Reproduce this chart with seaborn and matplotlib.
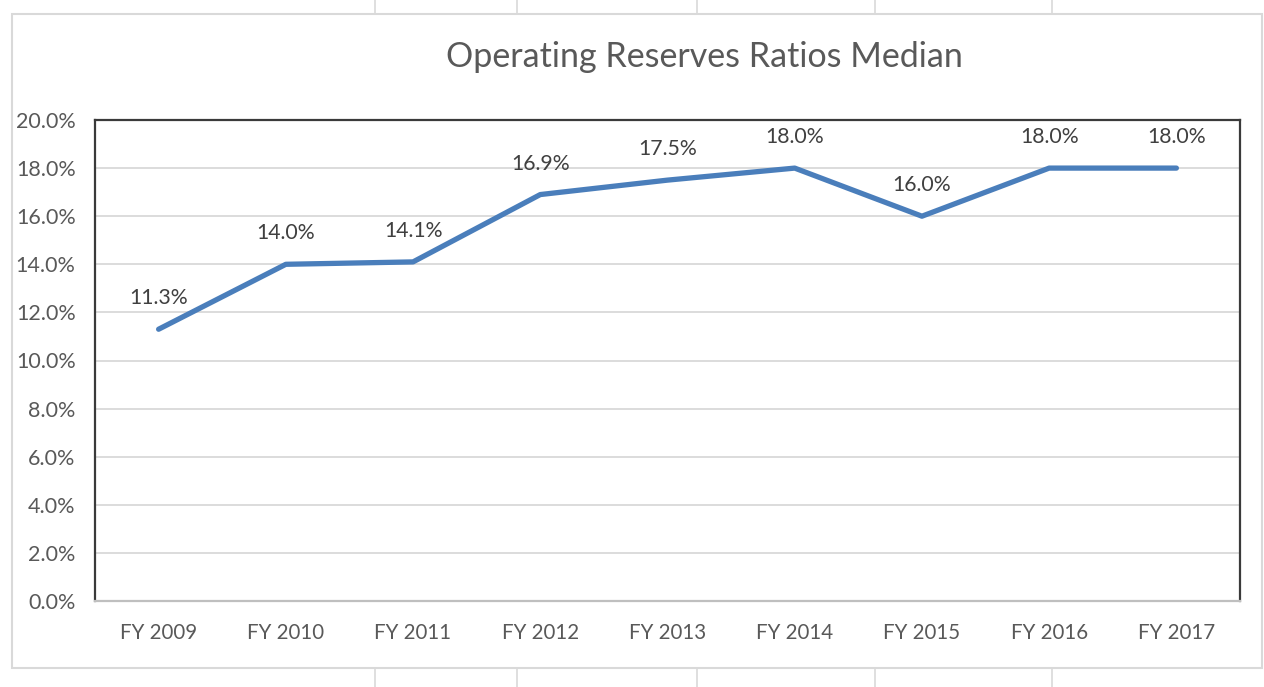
import pandas as pd
import matplotlib.pyplot as plt
import seaborn as sns
from matplotlib.lines import Line2D
from matplotlib.patches import Rectangle
from matplotlib.ticker import FuncFormatter, MultipleLocator

# Dados
anos = ["FY 2009", "FY 2010", "FY 2011", "FY 2012", "FY 2013",
        "FY 2014", "FY 2015", "FY 2016", "FY 2017"]
mediana = [11.3, 14.0, 14.1, 16.9, 17.5, 18.0, 16.0, 18.0, 18.0]

df = pd.DataFrame({"Ano": anos, "Mediana": mediana})

sns.set_theme(style="white")
plt.rcParams["font.family"] = ["Lato", "DejaVu Sans"]

W, H = 1264, 687
fig = plt.figure(figsize=(W / 100, H / 100), dpi=100)

# Fundo de planilha: borda do gráfico e linhas das células
fig.patches.append(Rectangle((12 / W, 1 - 668 / H), 1250 / W, 654 / H,
                             transform=fig.transFigure, fill=False,
                             edgecolor="#d9d9d9", linewidth=1.5))
for xc in [375, 517, 697, 875, 1052]:
    fig.lines.append(Line2D([xc / W, xc / W], [1, 1 - 14 / H],
                            transform=fig.transFigure, color="#d9d9d9", lw=1.2))
    fig.lines.append(Line2D([xc / W, xc / W], [1 - 668 / H, 0],
                            transform=fig.transFigure, color="#d9d9d9", lw=1.2))

ax = fig.add_axes([95 / W, 1 - 601 / H, (1240 - 95) / W, (601 - 120) / H])

sns.lineplot(data=df, x="Ano", y="Mediana", ax=ax, color="#4a7ebb",
             linewidth=3.8, solid_capstyle="round", sort=False)

ax.set_xlim(-0.5, 8.5)
ax.set_ylim(0, 20)
ax.yaxis.set_major_locator(MultipleLocator(2))
ax.yaxis.set_major_formatter(FuncFormatter(lambda v, p: f"{v:.1f}%"))
ax.grid(axis="y", color="#d9d9d9", linewidth=1.3)
ax.set_axisbelow(True)
ax.set_xlabel("")
ax.set_ylabel("")
ax.tick_params(axis="x", length=0, labelsize=14.8, colors="#595959", pad=16)
ax.tick_params(axis="y", length=0, labelsize=15.5, colors="#595959", pad=14)

for lado in ["left", "top", "right"]:
    ax.spines[lado].set_color("#3a3a3a")
    ax.spines[lado].set_linewidth(1.6)
ax.spines["bottom"].set_color("#bfbfbf")
ax.spines["bottom"].set_linewidth(1.6)

# Rótulos de dados
for i, v in enumerate(mediana):
    ax.annotate(f"{v:.1f}%", (i, v), xytext=(0, 31), textcoords="offset pixels",
                ha="center", va="center", fontsize=15.3, color="#404040")

fig.text(704 / W, 1 - 57 / H, "Operating Reserves Ratios Median",
         ha="center", va="center", fontsize=24.5, color="#595959")

plt.savefig("out.png", dpi=100)
